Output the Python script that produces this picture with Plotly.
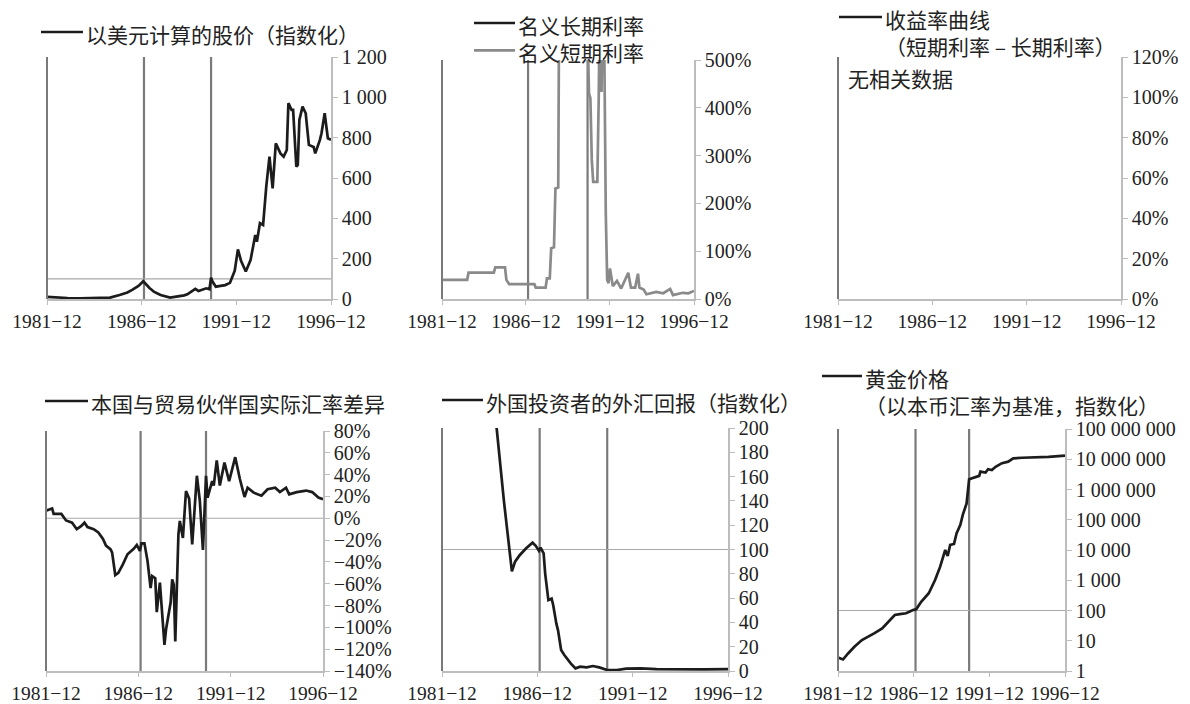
import plotly.graph_objects as go

W, H = 1190, 704

# ---------------- data ----------------
# 以美元计算的股价（指数化）
stock_dates = ["1981-12", "1982-06", "1983-01", "1983-09", "1984-06", "1985-04", "1985-10",
               "1986-03", "1986-06", "1986-10", "1987-01", "1987-03", "1987-05", "1987-08",
               "1987-12", "1988-06", "1988-12", "1989-03", "1989-05", "1989-08", "1989-10",
               "1989-12", "1990-03", "1990-05", "1990-07", "1990-08", "1990-09", "1990-11",
               "1991-02", "1991-05", "1991-08", "1991-11", "1992-01", "1992-03", "1992-06",
               "1992-09", "1992-12", "1993-01", "1993-03", "1993-05", "1993-07", "1993-09",
               "1993-11", "1994-01", "1994-04", "1994-06", "1994-08", "1994-09", "1994-11",
               "1994-12", "1995-02", "1995-03", "1995-04", "1995-06", "1995-08", "1995-10",
               "1996-01", "1996-02", "1996-05", "1996-06", "1996-08", "1996-10", "1996-12"]
stock_usd = [11, 7, 5, 3, 4, 7, 20, 32, 45, 65, 88, 70, 55, 35, 20, 7, 13, 18, 23, 38, 50,
             40, 48, 53, 48, 106, 85, 61, 65, 69, 80, 140, 246, 190, 136, 193, 317, 284, 376,
             367, 557, 706, 549, 772, 722, 706, 739, 971, 938, 938, 656, 665, 888, 954, 921,
             764, 754, 722, 789, 822, 921, 797, 789]

# 名义短期利率（%），名义长期利率无数据
short_dates = ["1981-12", "1983-06", "1983-07", "1985-01", "1985-02", "1985-09", "1985-10",
               "1985-12", "1987-06", "1987-07", "1988-02", "1988-03", "1988-05", "1988-06",
               "1988-08", "1988-09", "1988-11", "1988-12", "1989-06", "1989-12", "1990-04",
               "1990-07", "1990-08", "1990-09", "1990-10", "1990-11", "1990-12", "1991-03",
               "1991-04", "1991-05", "1991-06", "1991-07", "1991-08", "1991-09", "1991-10",
               "1991-11", "1991-12", "1992-02", "1992-05", "1992-08", "1993-01", "1993-03",
               "1993-06", "1993-08", "1993-09", "1993-12", "1994-02", "1994-09", "1995-02",
               "1995-07", "1995-09", "1996-04", "1996-08", "1996-12"]
short_rate = [40, 40, 55, 55, 66, 66, 40, 31, 31, 24, 24, 43, 43, 106, 108, 231, 233, 820,
              1500, 2400, 1800, 900, 560, 430, 420, 291, 245, 245, 423, 700, 433, 700, 510,
              180, 40, 33, 64, 27, 38, 22, 55, 24, 24, 53, 24, 20, 10, 15, 12, 21, 8, 13, 12, 17]
long_dates = []
long_rate = []

# 收益率曲线：无相关数据
curve_dates = []
curve_spread = []

# 本国与贸易伙伴国实际汇率差异（%）
rer_dates = ["1981-12", "1982-04", "1982-05", "1982-10", "1983-01", "1983-05", "1983-08",
             "1983-11", "1984-01", "1984-03", "1984-07", "1984-10", "1985-01", "1985-03",
             "1985-06", "1985-07", "1985-09", "1985-11", "1986-02", "1986-05", "1986-09",
             "1986-11", "1987-01", "1987-02", "1987-04", "1987-06", "1987-08", "1987-09",
             "1987-11", "1987-12", "1988-02", "1988-03", "1988-05", "1988-06", "1988-09",
             "1988-10", "1988-11", "1988-12", "1989-02", "1989-03", "1989-05", "1989-07",
             "1989-09", "1989-11", "1990-02", "1990-04", "1990-06", "1990-08", "1990-09",
             "1990-12", "1991-01", "1991-03", "1991-05", "1991-08", "1991-11", "1992-03",
             "1992-06", "1992-09", "1992-11", "1993-03", "1993-08", "1993-12", "1994-05",
             "1994-08", "1994-12", "1995-02", "1995-07", "1996-01", "1996-05", "1996-09",
             "1996-12"]
rer_gap = [7, 9, 4, 4, -2, -4, -10, -7, -4, -8, -10, -13, -19, -25, -28.5, -31.5, -52, -50,
           -42, -33, -28, -24.5, -30, -23, -23, -39, -64, -53, -55, -86, -59, -76, -116, -102,
           -77, -56, -61, -113, -15, -2.5, -18, 25, 18, -24, 39, 16, -29, 39, 19, 34, 30, 53,
           30, 51, 34, 56, 36, 19.5, 28, 23.5, 20.7, 26.6, 28, 24, 28, 22, 24, 25.4, 24, 19,
           17.4]

# 外国投资者的外汇回报（指数化）
fx_dates = ["1984-06", "1984-10", "1985-03", "1985-08", "1985-10", "1986-01", "1986-05",
            "1986-09", "1986-11", "1987-01", "1987-02", "1987-04", "1987-05", "1987-07",
            "1987-09", "1987-10", "1987-12", "1988-01", "1988-03", "1988-05", "1988-09",
            "1988-12", "1989-03", "1989-07", "1989-11", "1990-03", "1990-08", "1991-02",
            "1991-08", "1992-05", "1993-03", "1994-06", "1995-09", "1996-12"]
fx_return = [266, 205, 140, 82, 90, 95.5, 101, 105.6, 103, 99, 101.6, 96.8, 80, 58.4, 59.5,
             54.3, 39, 33.7, 17.3, 13.2, 6.3, 2.2, 3.6, 3, 4.1, 3, 0.8, 0.8, 1.9, 2.2, 1.5,
             1.2, 1.4, 1.5]

# 黄金价格（以本币汇率为基准，指数化）
gold_dates = ["1981-12", "1982-04", "1982-08", "1983-01", "1983-07", "1983-12", "1984-05",
              "1984-11", "1985-04", "1985-09", "1986-01", "1986-06", "1986-12", "1987-02",
              "1987-06", "1987-12", "1988-05", "1988-09", "1989-01", "1989-03", "1989-05",
              "1989-08", "1989-10", "1990-01", "1990-03", "1990-06", "1990-08", "1991-01",
              "1991-04", "1991-05", "1991-09", "1991-11", "1992-02", "1992-05", "1992-10",
              "1993-03", "1993-07", "1994-02", "1994-12", "1995-11", "1996-12"]
gold_price = [2.8, 2.4, 3.8, 6.3, 10.5, 13.5, 17.8, 25.7, 42.7, 70.8, 75.9, 81.3, 105, 110,
              195, 372, 1020, 2820, 10000, 6300, 14800, 15800, 35500, 67600, 145000, 347000,
              2190000, 2630000, 2820000, 3890000, 3630000, 4680000, 4370000, 5620000, 7410000,
              8320000, 10700000, 11200000, 11500000, 12000000, 13200000]

# 事件竖线与公共横轴
event_dates = ["1987-01-15", "1990-08-01"]
x_range = ["1981-12-01", "1996-12-01"]
x_tickvals = ["1981-12-01", "1986-12-01", "1991-12-01", "1996-12-01"]
x_ticktext = ["1981−12", "1986−12", "1991−12", "1996−12"]

# 各子图纵轴刻度
y1_vals = [0, 200, 400, 600, 800, 1000, 1200]
y1_text = ["0", "200", "400", "600", "800", "1 000", "1 200"]
y2_vals = [0, 100, 200, 300, 400, 500]
y2_text = ["0%", "100%", "200%", "300%", "400%", "500%"]
y3_vals = [0, 20, 40, 60, 80, 100, 120]
y3_text = ["0%", "20%", "40%", "60%", "80%", "100%", "120%"]
y4_vals = [-140, -120, -100, -80, -60, -40, -20, 0, 20, 40, 60, 80]
y4_text = ["−140%", "−120%", "−100%", "−80%", "−60%", "−40%", "−20%", "0%", "20%", "40%",
           "60%", "80%"]
y5_vals = [0, 20, 40, 60, 80, 100, 120, 140, 160, 180, 200]
y5_text = ["0", "20", "40", "60", "80", "100", "120", "140", "160", "180", "200"]
y6_vals = [1, 10, 100, 1000, 10000, 100000, 1000000, 10000000, 100000000]
y6_text = ["1", "10", "100", "1 000", "10 000", "100 000", "1 000 000", "10 000 000",
           "100 000 000"]

# ---------------- layout helpers ----------------
BLACK = "#1c1c1c"
GREY_SERIES = "#8a8a8a"
EVENT = "#7a7a7a"
AXIS = "#bdbdbd"
REF = "#a8a8a8"
CJK = "Noto Sans CJK SC"
SERIF = "Liberation Serif"
LEGEND_SIZE = 21


def fx(px):
    return px / W


def fy(py):
    return 1 - py / H


# plot boxes in pixels: left, right, top, bottom
boxes = {
    1: (47, 331, 57, 299),
    2: (442, 694, 60, 299),
    3: (838, 1121, 57, 299),
    4: (46, 323, 431, 671),
    5: (442, 728, 428, 671),
    6: (838, 1065, 429, 671),
}

fig = go.Figure()


def ax(i):
    return ("x" if i == 1 else f"x{i}"), ("y" if i == 1 else f"y{i}")


def add_series(i, xs, ys, color):
    xa, ya = ax(i)
    fig.add_trace(go.Scatter(x=xs, y=ys, mode="lines", xaxis=xa, yaxis=ya,
                             line=dict(color=color, width=2.7), showlegend=False,
                             hoverinfo="x+y"))


add_series(1, stock_dates, stock_usd, BLACK)
add_series(2, long_dates, long_rate, BLACK)
add_series(2, short_dates, short_rate, GREY_SERIES)
add_series(3, curve_dates, curve_spread, BLACK)
add_series(4, rer_dates, rer_gap, BLACK)
add_series(5, fx_dates, fx_return, BLACK)
add_series(6, gold_dates, gold_price, BLACK)

y_ticks = {1: (y1_vals, y1_text, [0, 1200]),
           2: (y2_vals, y2_text, [0, 500]),
           3: (y3_vals, y3_text, [0, 120]),
           4: (y4_vals, y4_text, [-140, 80]),
           5: (y5_vals, y5_text, [0, 200]),
           6: (y6_vals, y6_text, [0, 8])}

layout = {}
shapes = []
for i, (l, r, t, b) in boxes.items():
    xa, ya = ax(i)
    xkey = "xaxis" if i == 1 else f"xaxis{i}"
    ykey = "yaxis" if i == 1 else f"yaxis{i}"
    vals, text, rng = y_ticks[i]
    layout[xkey] = dict(
        domain=[fx(l), fx(r)], anchor=ya, type="date", range=x_range, automargin=False,
        tickmode="array", tickvals=x_tickvals, ticktext=x_ticktext, tickangle=0,
        showgrid=False, zeroline=False, showline=True, linecolor=AXIS, linewidth=1.5,
        ticks="outside", ticklen=4, tickcolor=AXIS,
        tickfont=dict(family=SERIF, size=19.5, color="#222"))
    layout[ykey] = dict(
        domain=[fy(b), fy(t)], anchor=xa, side="right", range=rng, automargin=False,
        type="log" if i == 6 else "linear",
        tickmode="array", tickvals=vals, ticktext=text,
        showgrid=False, zeroline=False, showline=True, linecolor=AXIS, linewidth=1.5,
        ticks="outside", ticklen=5, tickcolor=AXIS,
        tickfont=dict(family=SERIF, size=20, color="#222"))
    # left frame edge
    shapes.append(dict(type="line", xref="paper", yref="paper",
                       x0=fx(l), x1=fx(l), y0=fy(b), y1=fy(t),
                       line=dict(color=EVENT, width=2)))
    # event markers (panel 3 has no data)
    if i != 3:
        for d in event_dates:
            shapes.append(dict(type="line", xref=xa, yref=f"{ya} domain",
                               x0=d, x1=d, y0=0, y1=1,
                               line=dict(color=EVENT, width=2.2), layer="below"))

# reference levels
for i, level in [(1, 100), (4, 0), (5, 100), (6, 100)]:
    xa, ya = ax(i)
    shapes.append(dict(type="line", xref=f"{xa} domain", yref=ya, x0=0, x1=1,
                       y0=level, y1=level, line=dict(color=REF, width=1.2), layer="below"))

# legend blocks: key lines (x0, x1, y, colour) followed by the text block
line_gap = 1.3 * LEGEND_SIZE
legend_blocks = [
    ([(41, 83, 32, BLACK)], "以美元计算的股价（指数化）"),
    ([(474, 515, 23, BLACK), (474, 515, 23 + line_gap, GREY_SERIES)],
     "名义长期利率<br>名义短期利率"),
    ([(839, 882, 17, BLACK)], "收益率曲线<br>（短期利率 – 长期利率）"),
    ([(45, 88, 401, BLACK)], "本国与贸易伙伴国实际汇率差异"),
    ([(442, 483, 400, BLACK)], "外国投资者的外汇回报（指数化）"),
    ([(822, 862, 376, BLACK)], "黄金价格<br>（以本币汇率为基准，指数化）"),
]
annotations = []
for keys, label in legend_blocks:
    for x0, x1, y, col in keys:
        shapes.append(dict(type="line", xref="paper", yref="paper",
                           x0=fx(x0), x1=fx(x1), y0=fy(y), y1=fy(y),
                           line=dict(color=col, width=2.7)))
    x_text, y_first = keys[0][1], keys[0][2]
    annotations.append(dict(x=fx(x_text + 2), y=fy(y_first - line_gap / 2), xref="paper",
                            yref="paper", text=label, showarrow=False, xanchor="left",
                            yanchor="top", align="left", borderpad=0,
                            font=dict(family=CJK, size=LEGEND_SIZE, color="#222")))

annotations.append(dict(x=fx(846), y=fy(78), xref="paper", yref="paper", text="无相关数据",
                        showarrow=False, xanchor="left", yanchor="middle",
                        font=dict(family=CJK, size=LEGEND_SIZE, color="#222")))

fig.update_layout(
    width=W, height=H, autosize=False,
    margin=dict(l=0, r=0, t=0, b=0),
    paper_bgcolor="white", plot_bgcolor="white",
    font=dict(family=SERIF, color="#222"),
    shapes=shapes, annotations=annotations,
    **layout,
)

fig.write_html("out.html")
